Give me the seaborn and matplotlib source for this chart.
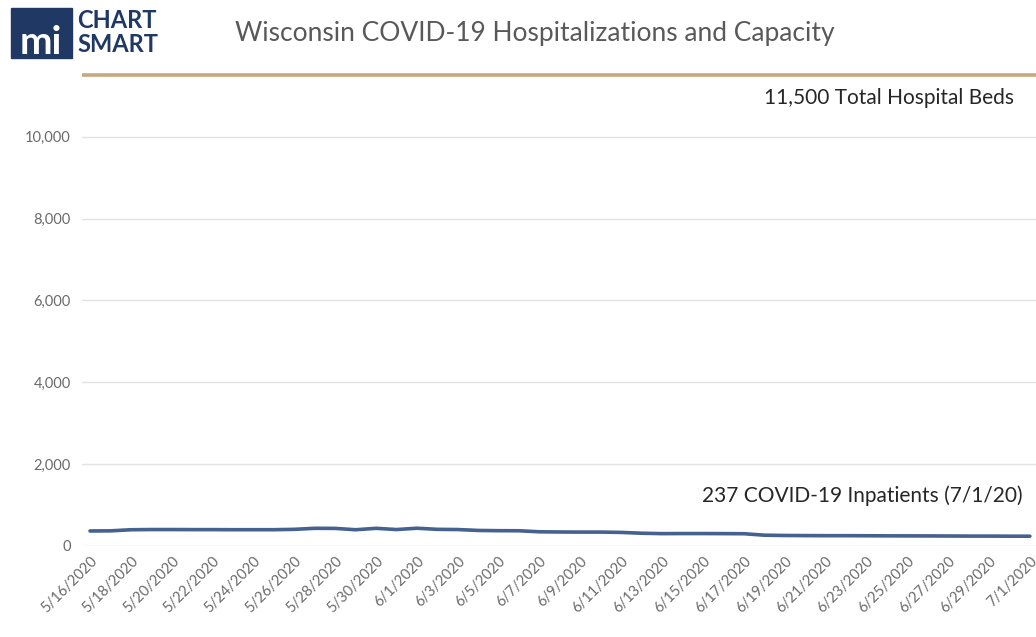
import matplotlib
matplotlib.use("Agg")
import matplotlib.pyplot as plt
import seaborn as sns
import pandas as pd
from matplotlib.patches import Rectangle

# ---- data ----
dates = ["5/16/2020", "5/17/2020", "5/18/2020", "5/19/2020", "5/20/2020", "5/21/2020",
         "5/22/2020", "5/23/2020", "5/24/2020", "5/25/2020", "5/26/2020", "5/27/2020",
         "5/28/2020", "5/29/2020", "5/30/2020", "5/31/2020", "6/1/2020", "6/2/2020",
         "6/3/2020", "6/4/2020", "6/5/2020", "6/6/2020", "6/7/2020", "6/8/2020",
         "6/9/2020", "6/10/2020", "6/11/2020", "6/12/2020", "6/13/2020", "6/14/2020",
         "6/15/2020", "6/16/2020", "6/17/2020", "6/18/2020", "6/19/2020", "6/20/2020",
         "6/21/2020", "6/22/2020", "6/23/2020", "6/24/2020", "6/25/2020", "6/26/2020",
         "6/27/2020", "6/28/2020", "6/29/2020", "6/30/2020", "7/1/2020"]
inpatients = [365, 368, 395, 400, 400, 398, 398, 396, 396, 396, 405, 430,
              428, 395, 430, 400, 432, 405, 400, 378, 372, 370, 345, 340,
              338, 338, 330, 310, 300, 302, 302, 300, 298, 262, 255, 252,
              250, 250, 248, 246, 245, 244, 242, 240, 240, 238, 237]
total_beds = 11500
y_ticks = [0, 2000, 4000, 6000, 8000, 10000]

df = pd.DataFrame({"date": dates, "inpatients": inpatients})

sns.set_theme(style="white")
plt.rcParams["font.family"] = ["Lato", "DejaVu Sans"]

fig = plt.figure(figsize=(10.36, 6.37), dpi=100)
ax = fig.add_axes([0.079, 0.143, 0.921, 0.7708])

sns.lineplot(data=df, x="date", y="inpatients", ax=ax, color="#44618F", linewidth=2.6, sort=False)
ax.axhline(total_beds, color="#C9A67E", linewidth=2.6)

ax.set_ylim(0, 12000)
ax.set_xlim(-0.4, 46.3)
ax.set_yticks(y_ticks)
ax.set_yticklabels([f"{v:,}" for v in y_ticks], color="#6A6A6A", fontsize=10.5)
ax.set_xticks(range(0, len(dates), 2))
ax.set_xticklabels(dates[::2], rotation=45, ha="right", rotation_mode="anchor",
                   color="#6A6A6A", fontsize=10.5)
ax.tick_params(axis="both", length=0, pad=8)
ax.tick_params(axis="x", pad=6)
ax.grid(axis="y", color="#E3E3E3", linewidth=1)
ax.set_axisbelow(True)
for s in ax.spines.values():
    s.set_visible(False)
ax.set_xlabel("")
ax.set_ylabel("")

ax.text(0.977, 10950, "11,500 Total Hospital Beds", transform=ax.get_yaxis_transform(),
        ha="right", va="center", fontsize=15, color="#262626")
ax.text(0.986, 1230, "237 COVID-19 Inpatients (7/1/20)", transform=ax.get_yaxis_transform(),
        ha="right", va="center", fontsize=15, color="#262626")

fig.text(0.516, 0.948, "Wisconsin COVID-19 Hospitalizations and Capacity",
         ha="center", va="center", fontsize=19, color="#595959")

# logo
fig.patches.append(Rectangle((11 / 1036, 1 - 58 / 637), 61 / 1036, 50 / 637,
                             transform=fig.transFigure, color="#1F3864"))
fig.text(41 / 1036, 1 - 42 / 637, "mi", ha="center", va="center", fontsize=28,
         fontweight="bold", color="white")
logo_font = ["Liberation Sans Narrow", "Lato", "DejaVu Sans"]
fig.text(77 / 1036, 1 - 21 / 637, "CHART", ha="left", va="center", fontsize=17,
         fontweight="bold", color="#1F3864", family=logo_font)
fig.text(77 / 1036, 1 - 45 / 637, "SMART", ha="left", va="center", fontsize=17,
         fontweight="bold", color="#1F3864", family=logo_font)

fig.savefig("out.png", dpi=100)
